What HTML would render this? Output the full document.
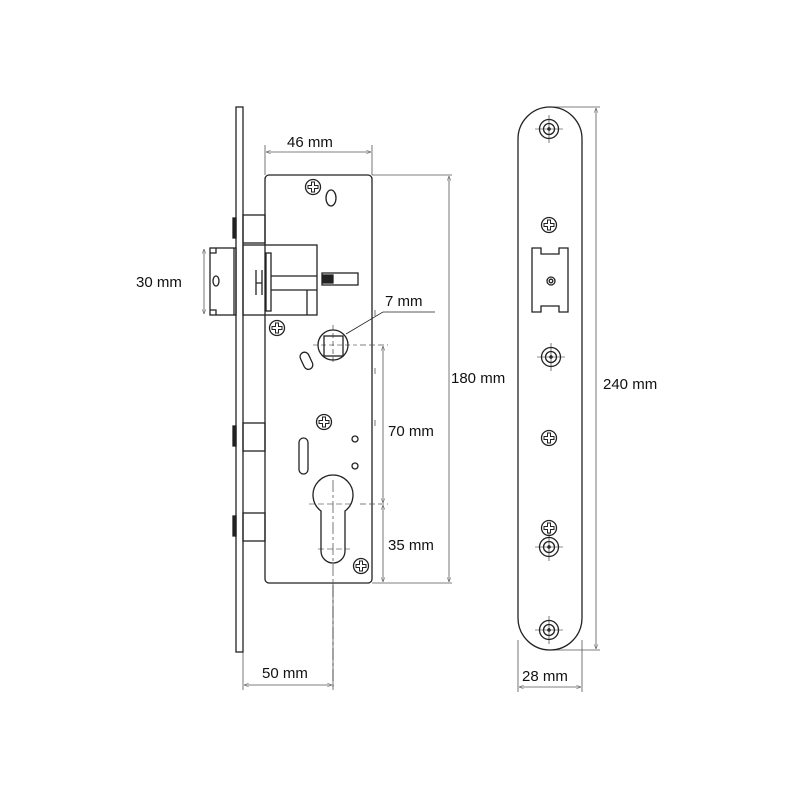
<!DOCTYPE html><html><head><style>body{margin:0;background:#fff}svg{display:block}text{font-family:"Liberation Sans",sans-serif;font-size:15px;fill:#111}</style></head><body>
<svg width="800" height="800" viewBox="0 0 800 800" fill="none" stroke="#222" stroke-width="1.3">
<defs>
<g id="scr"><circle r="7.5"/><path d="M-1.5,-5h3v3.5h3.5v3h-3.5v3.5h-3v-3.5h-3.5v-3h3.5z" stroke-width="1"/></g>
<g id="tgt"><circle r="9.5"/><circle r="5.5"/><circle r="1.2"/><path d="M-14,0h28M0,-14v28" stroke-width="0.6"/></g>
<marker id="a" viewBox="0 0 10 10" refX="10" refY="5" markerWidth="8" markerHeight="6" orient="auto-start-reverse"><path d="M0,1L10,5L0,9" stroke="#555" stroke-width="1"/></marker>
</defs>
<rect x="236" y="107" width="7" height="545"/>
<rect x="265" y="175" width="107" height="408" rx="4"/>
<rect x="243" y="215" width="22" height="28"/><rect x="233" y="218" width="3" height="20" fill="#222"/>
<rect x="243" y="423" width="22" height="28"/><rect x="233" y="426" width="3" height="20" fill="#222"/>
<rect x="243" y="513" width="22" height="28"/><rect x="233" y="516" width="3" height="20" fill="#222"/>
<rect x="243" y="245" width="74" height="70"/>
<rect x="266" y="253" width="5" height="58"/>
<path d="M271,276H317M271,290H307V315M307,290H317"/>
<path d="M256,270v25M262,270v25M256,283h6" />
<rect x="322" y="273" width="36" height="12"/><rect x="323" y="275" width="10" height="8" fill="#222"/>
<rect x="210" y="248" width="26" height="67"/><path d="M216,248v5h-6M216,315v-5h-6M234,248v67"/><ellipse cx="216" cy="281" rx="3" ry="5"/>
<use href="#scr" x="313" y="187"/><ellipse cx="331" cy="198" rx="5" ry="8"/>
<use href="#scr" x="277" y="328"/>
<circle cx="333" cy="345" r="15"/><rect x="324" y="336" width="19" height="20"/>
<path d="M313,345h44M333,325v40" stroke-dasharray="5,3" stroke-width="0.6"/>
<rect x="302" y="352" width="9" height="18" rx="4.5" transform="rotate(-25 306 361)"/>
<use href="#scr" x="324" y="422"/>
<rect x="299" y="438" width="9" height="36" rx="4.5"/>
<circle cx="355" cy="439" r="3"/><circle cx="355" cy="466" r="3"/>
<path d="M321,511A20,20 0 1 1 345,511V551A12,12 0 0 1 321,551Z"/>
<path d="M309,504h45M318,549h32" stroke-dasharray="6,3" stroke-width="0.6"/>
<use href="#scr" x="361" y="566"/>
<path d="M333,480V690" stroke-width="0.6" stroke-dasharray="12,3,3,3"/>
<path d="M333,583V690M243,652V690" stroke-width="0.6"/>
<g stroke="#555" stroke-width="0.8">
<path d="M265,175V145M372,175V145"/><path d="M266,152H371" marker-start="url(#a)" marker-end="url(#a)"/>
<path d="M244,685H332" marker-start="url(#a)" marker-end="url(#a)"/>
<path d="M204,249V314" marker-start="url(#a)" marker-end="url(#a)"/>
<path d="M372,175H452M372,583H452"/><path d="M449,176V582" marker-start="url(#a)" marker-end="url(#a)"/>
<path d="M360,345H388M360,504H388" stroke-dasharray="6,3"/>
<path d="M383,346V503" marker-start="url(#a)" marker-end="url(#a)"/>
<path d="M383,505V582" marker-start="url(#a)" marker-end="url(#a)"/>
<path d="M346,334L383,312H435" stroke="#222"/>
<path d="M375,310v6M375,368v6M375,420v6" />
<path d="M550,107H600M550,650H600"/><path d="M596,108V649" marker-start="url(#a)" marker-end="url(#a)"/>
<path d="M518,640V692M582,640V692"/><path d="M519,687H581" marker-start="url(#a)" marker-end="url(#a)"/>
</g>
<path d="M518,139A32,32 0 0 1 582,139V618A32,32 0 0 1 518,618Z"/>
<use href="#tgt" x="549" y="129"/>
<use href="#scr" x="549" y="225"/>
<path d="M532,248H541V254H559V248H568V312H559V306H541V312H532Z"/>
<circle cx="551" cy="281" r="4"/><circle cx="551" cy="281" r="1.8"/>
<use href="#tgt" x="551" y="357"/>
<use href="#scr" x="549" y="438"/>
<use href="#scr" x="549" y="528"/>
<use href="#tgt" x="549" y="547"/>
<use href="#tgt" x="549" y="630"/>
<g stroke="none">
<text x="287" y="147">46 mm</text>
<text x="136" y="287">30 mm</text>
<text x="385" y="306">7 mm</text>
<text x="451" y="383">180 mm</text>
<text x="388" y="436">70 mm</text>
<text x="388" y="550">35 mm</text>
<text x="262" y="678">50 mm</text>
<text x="603" y="389">240 mm</text>
<text x="522" y="681">28 mm</text>
</g>
</svg></body></html>
